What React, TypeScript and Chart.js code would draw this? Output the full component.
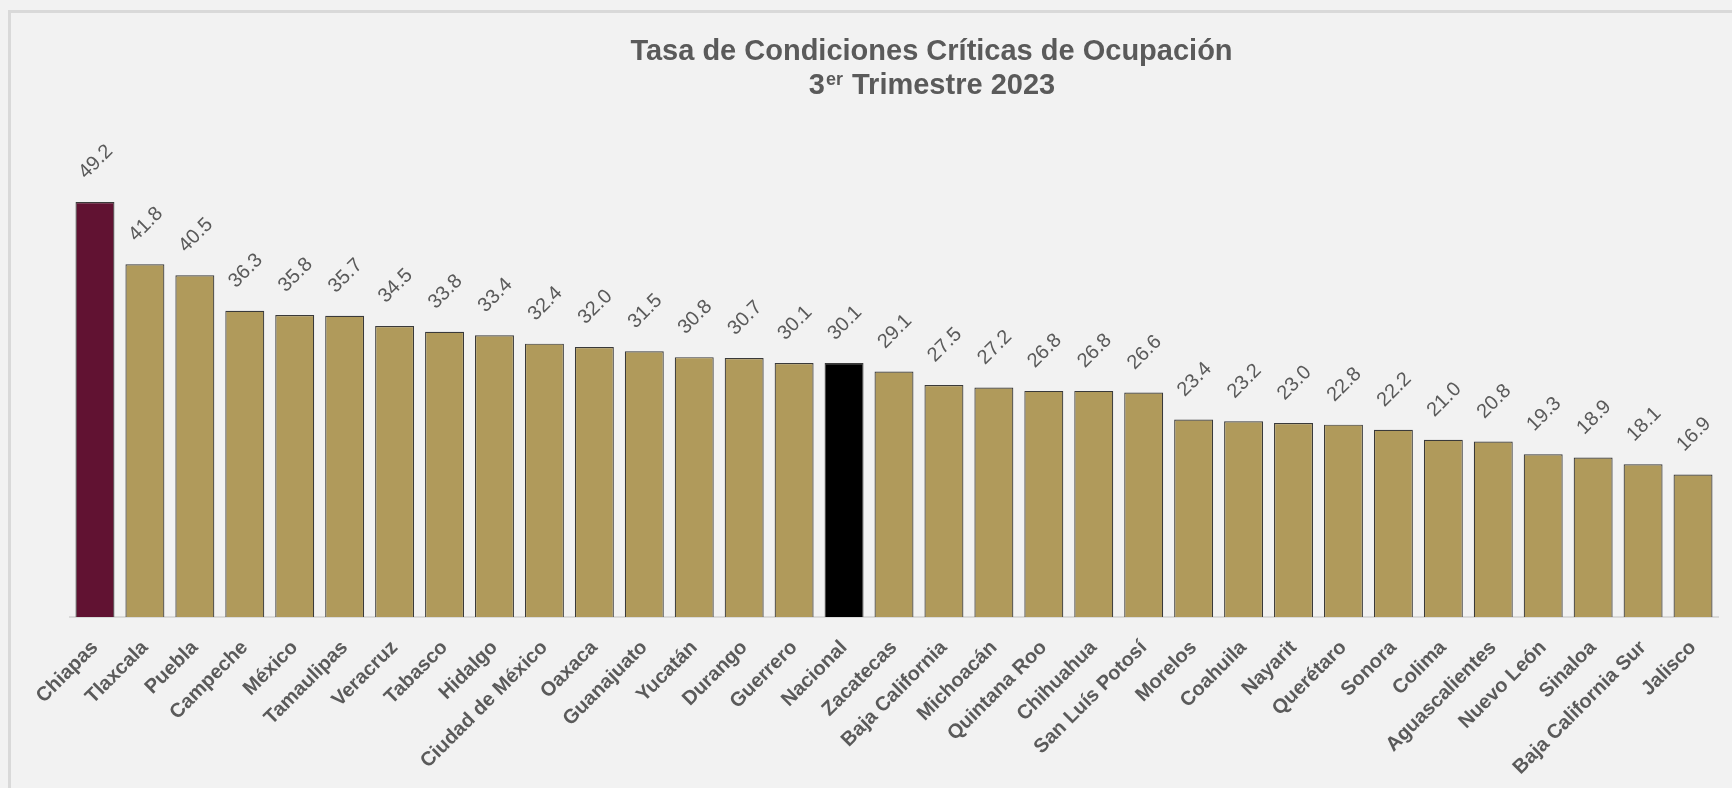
import React, { useEffect, useRef } from 'react';
import { Chart, registerables } from 'chart.js';

Chart.register(...registerables);

const categories = [
  'Chiapas', 'Tlaxcala', 'Puebla', 'Campeche', 'México', 'Tamaulipas', 'Veracruz', 'Tabasco',
  'Hidalgo', 'Ciudad de México', 'Oaxaca', 'Guanajuato', 'Yucatán', 'Durango', 'Guerrero',
  'Nacional', 'Zacatecas', 'Baja California', 'Michoacán', 'Quintana Roo', 'Chihuahua',
  'San Luís Potosí', 'Morelos', 'Coahuila', 'Nayarit', 'Querétaro', 'Sonora', 'Colima',
  'Aguascalientes', 'Nuevo León', 'Sinaloa', 'Baja California Sur', 'Jalisco',
];

const values = [
  49.2, 41.8, 40.5, 36.3, 35.8, 35.7, 34.5, 33.8, 33.4, 32.4, 32.0, 31.5, 30.8, 30.7, 30.1,
  30.1, 29.1, 27.5, 27.2, 26.8, 26.8, 26.6, 23.4, 23.2, 23.0, 22.8, 22.2, 21.0, 20.8, 19.3,
  18.9, 18.1, 16.9,
];

const titleLine1 = 'Tasa de Condiciones Críticas de Ocupación';
const titleOrdinal = '3';
const titleSuperscript = 'er';
const titleRest = ' Trimestre 2023';

const GOLD = '#b09a5b';
const MAROON = '#611232';
const BLACK = '#000000';
const TEXT = '#5a5a5a';
const FONT = '"Liberation Sans", Arial, sans-serif';

const barColors = categories.map((c) =>
  c === 'Chiapas' ? MAROON : c === 'Nacional' ? BLACK : GOLD
);

const valueLabelPlugin = {
  id: 'valueLabels',
  afterDatasetsDraw(chart: any) {
    const ctx = chart.ctx;
    const meta = chart.getDatasetMeta(0);
    ctx.save();
    ctx.font = `20px ${FONT}`;
    ctx.fillStyle = TEXT;
    ctx.textAlign = 'center';
    ctx.textBaseline = 'middle';
    meta.data.forEach((bar: any, i: number) => {
      const v = chart.data.datasets[0].data[i] as number;
      ctx.save();
      ctx.translate(bar.x + 1, bar.y - 40);
      ctx.rotate(-Math.PI / 4);
      ctx.fillText(v.toFixed(1), 0, 0);
      ctx.restore();
    });
    ctx.restore();
  },
};

const titlePlugin = {
  id: 'customTitle',
  afterDraw(chart: any) {
    const ctx = chart.ctx;
    const cx = chart.width * 0.5378;
    ctx.save();
    ctx.fillStyle = TEXT;
    ctx.textBaseline = 'alphabetic';
    ctx.textAlign = 'center';
    ctx.font = `bold 29px ${FONT}`;
    ctx.fillText(titleLine1, cx, 60);

    ctx.textAlign = 'left';
    const big = `bold 29px ${FONT}`;
    const small = `bold 18px ${FONT}`;
    ctx.font = big;
    const w1 = ctx.measureText(titleOrdinal).width;
    const w3 = ctx.measureText(titleRest).width;
    ctx.font = small;
    const w2 = ctx.measureText(titleSuperscript).width + 1;
    let x = cx - (w1 + w2 + w3) / 2;
    const y = 94;
    ctx.font = big;
    ctx.fillText(titleOrdinal, x, y);
    x += w1 + 1;
    ctx.font = small;
    ctx.fillText(titleSuperscript, x, y - 9);
    x += w2;
    ctx.font = big;
    ctx.fillText(titleRest, x, y);
    ctx.restore();
  },
};

export default function App() {
  const canvasRef = useRef<HTMLCanvasElement | null>(null);

  useEffect(() => {
    document.body.style.background = '#f2f2f2';
    const canvas = canvasRef.current;
    if (!canvas) return;
    const chart = new Chart(canvas, {
      type: 'bar',
      data: {
        labels: categories,
        datasets: [
          {
            data: values,
            backgroundColor: barColors,
            borderColor: '#3a3a3a',
            borderWidth: 1.2,
            barPercentage: 0.78,
            categoryPercentage: 1,
          },
        ],
      },
      options: {
        responsive: false,
        animation: false,
        devicePixelRatio: 1,
        layout: { padding: { left: 70, right: 14, top: 153, bottom: 0 } },
        plugins: {
          legend: { display: false },
          title: { display: false },
          tooltip: { enabled: false },
        },
        scales: {
          x: {
            grid: { display: false, drawTicks: false },
            border: { display: true, color: '#d9d9d9', width: 2 },
            ticks: {
              autoSkip: false,
              maxRotation: 45,
              minRotation: 45,
              padding: 19,
              color: TEXT,
              font: { family: FONT, size: 20, weight: 'bold' },
            },
            afterFit(scale: any) {
              scale.height = 171;
            },
          },
          y: {
            display: false,
            min: 0,
            max: 55,
          },
        },
      },
      plugins: [valueLabelPlugin, titlePlugin],
    });
    return () => chart.destroy();
  }, []);

  return (
    <div
      style={{
        position: 'fixed',
        left: 0,
        top: 0,
        width: 1732,
        height: 788,
        overflow: 'hidden',
        background: '#f2f2f2',
      }}
    >
      <div
        style={{
          position: 'absolute',
          left: 8,
          top: 10,
          width: 1740,
          height: 800,
          border: '3px solid #d9d9d9',
        }}
      />
      <canvas
        ref={canvasRef}
        width={1732}
        height={788}
        style={{ position: 'absolute', left: 0, top: 0, width: 1732, height: 788 }}
      />
    </div>
  );
}
